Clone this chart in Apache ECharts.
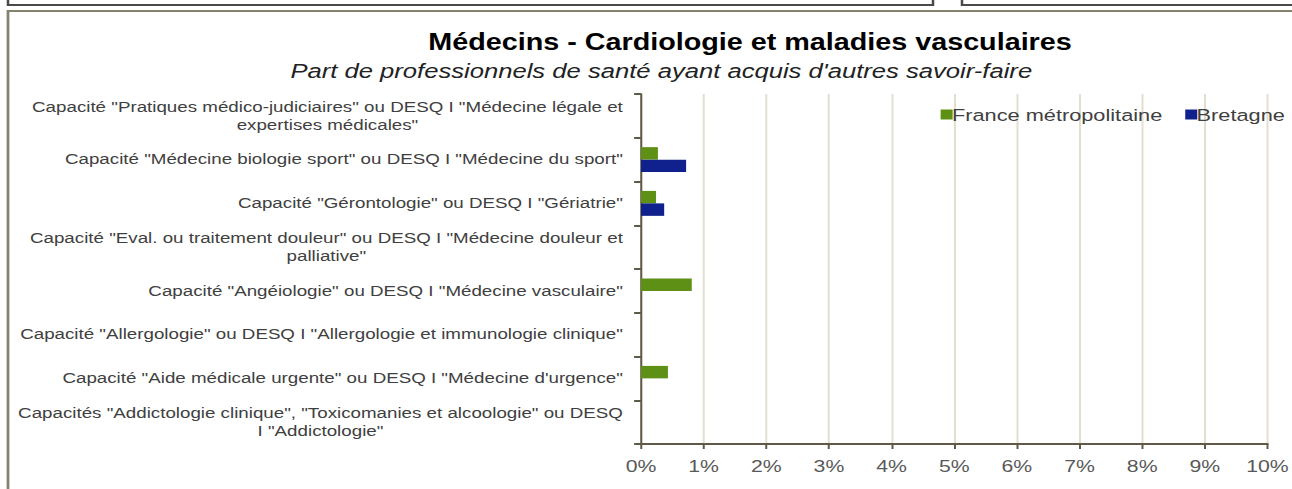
<!DOCTYPE html>
<html>
<head>
<meta charset="utf-8">
<script src="https://cdn.jsdelivr.net/npm/echarts@6/dist/echarts.min.js"></script>
<style>
html,body{margin:0;padding:0;background:#fff;overflow:hidden;width:1292px;height:489px;}
/* the reference picture is horizontally stretched; reproduce it with a uniform scaleX */
#chart{width:1033.6px;height:489px;transform:scaleX(1.25);transform-origin:0 0;}
</style>
</head>
<body>
<div id="chart"></div>
<script>
const categories = [
  'Capacité "Pratiques médico-judiciaires" ou DESQ I "Médecine légale et\nexpertises médicales"',
  'Capacité "Médecine biologie sport" ou DESQ I "Médecine du sport"',
  'Capacité "Gérontologie" ou DESQ I "Gériatrie"',
  'Capacité "Eval. ou traitement douleur" ou DESQ I "Médecine douleur et\npalliative"',
  'Capacité "Angéiologie" ou DESQ I "Médecine vasculaire"',
  'Capacité "Allergologie" ou DESQ I "Allergologie et immunologie clinique"',
  'Capacité "Aide médicale urgente" ou DESQ I "Médecine d\'urgence"',
  'Capacités "Addictologie clinique", "Toxicomanies et alcoologie" ou DESQ\nI "Addictologie"'
];
const franceValues = [0, 0.27, 0.24, 0, 0.81, 0, 0.43, 0];
const bretagneValues = [0, 0.72, 0.37, 0, 0, 0, 0, 0];
const seriesNames = ['France métropolitaine', 'Bretagne'];
const titleText = 'Médecins - Cardiologie et maladies vasculaires';
const subtitleText = "Part de professionnels de santé ayant acquis d'autres savoir-faire";

const FONT = "'Liberation Sans', Arial, sans-serif";
const AXIS = '#5f5a48';

const chart = echarts.init(document.getElementById('chart'), null, {renderer: 'svg'});
chart.setOption({
  animation: false,
  backgroundColor: '#fff',
  textStyle: {fontFamily: FONT},
  graphic: [
    {type: 'rect', shape: {x: 6.4, y: -10, width: 740, height: 15}, style: {fill: 'none', stroke: '#4a4a4a', lineWidth: 2}},
    {type: 'rect', shape: {x: 769.6, y: -10, width: 400, height: 15}, style: {fill: 'none', stroke: '#4a4a4a', lineWidth: 2}},
    {type: 'rect', shape: {x: 6.4, y: 11, width: 1200, height: 500}, style: {fill: 'none', stroke: '#858270', lineWidth: 2.2}},
    {type: 'text', x: 600, y: 31, style: {text: titleText, fontSize: 23, fontWeight: 'bold', fontFamily: FONT, fill: '#000', align: 'center'}},
    {type: 'text', x: 529, y: 61, style: {text: subtitleText, fontSize: 20.5, fontStyle: 'italic', fontFamily: FONT, fill: '#222', align: 'center'}}
  ],
  legend: {
    data: seriesNames,
    left: 747.5, top: 101,
    itemWidth: 9.6, itemHeight: 10, itemGap: 18.4,
    icon: 'rect',
    textStyle: {fontSize: 17.4, color: '#404040', fontFamily: FONT, padding: [0,0,0,-5.5]}
  },
  grid: {left: 512.8, right: 16, top: 94, bottom: 45, containLabel: false},
  xAxis: {
    type: 'value', min: 0, max: 10, interval: 1,
    axisLine: {show: true, lineStyle: {color: AXIS, width: 2}},
    axisTick: {show: true, length: 5, lineStyle: {color: AXIS, width: 1.6}},
    splitLine: {show: true, lineStyle: {color: '#e3dfcf', width: 1.6}},
    axisLabel: {formatter: '{value}%', fontSize: 17, color: '#595959', margin: 14, fontFamily: FONT}
  },
  yAxis: {
    type: 'category', data: categories, inverse: true,
    axisLine: {show: true, lineStyle: {color: AXIS, width: 1.6}},
    axisTick: {show: true, length: 5.5, lineStyle: {color: AXIS, width: 2}},
    axisLabel: {
      margin: 14.4, fontSize: 15, lineHeight: 18, color: '#404040', fontFamily: FONT, align: 'right',
      formatter: v => v.split('\n').map(l => '{c|' + l + '}').join('\n'),
      rich: {c: {align: 'center', fontSize: 15, lineHeight: 18, color: '#404040', fontFamily: FONT}}
    }
  },
  series: [
    {name: seriesNames[0], type: 'bar', data: franceValues, itemStyle: {color: '#5e9016'}, barGap: '0%', barCategoryGap: '43%'},
    {name: seriesNames[1], type: 'bar', data: bretagneValues, itemStyle: {color: '#10208c'}, barGap: '0%', barCategoryGap: '43%'}
  ]
});
</script>
</body>
</html>
